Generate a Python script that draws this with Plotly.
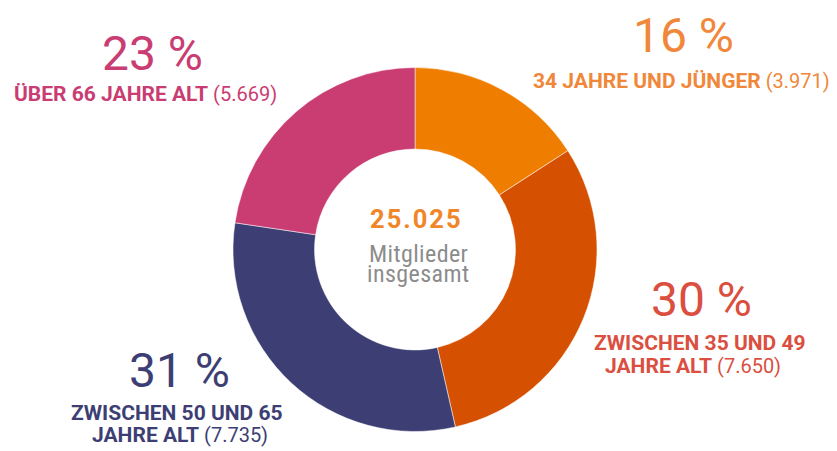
import plotly.graph_objects as go

# ---- data ----
categories = ["34 JAHRE UND JÜNGER", "ZWISCHEN 35 UND 49 JAHRE ALT",
              "ZWISCHEN 50 UND 65 JAHRE ALT", "ÜBER 66 JAHRE ALT"]
members = [3971, 7650, 7735, 5669]
percent_labels = [16, 30, 31, 23]
count_labels = ["3.971", "7.650", "7.735", "5.669"]
total_label = "25.025"
slice_colors = ["#EE7D00", "#D55000", "#3D3F74", "#C93D73"]
text_colors = ["#F0873A", "#DA4F3F", "#3D3F74", "#C93D73"]

W, H = 837, 451
FONT = "Roboto, sans-serif"

fig = go.Figure(go.Pie(
    labels=categories, values=members, sort=False, direction="clockwise",
    rotation=0, hole=0.552, textinfo="none", hoverinfo="label+value",
    marker=dict(colors=slice_colors, line=dict(color="white", width=0.5)),
    domain=dict(x=[(415 - 182) / W, (415 + 182) / W],
                y=[(H - 249.5 - 182) / H, (H - 249.5 + 182) / H]),
    showlegend=False,
))

ann = []
def add(text, px, py, size, color, anchor="center"):
    ann.append(dict(text=text, x=px / W, y=1 - py / H, xref="paper", yref="paper",
                    xanchor=anchor, yanchor="middle", showarrow=False,
                    font=dict(family=FONT, size=size, color=color)))

def cond(s):
    return "<span style='font-stretch:condensed'>" + s + "</span>"

def label(bold, count=None):
    s = f"<b>{bold}</b>"
    if count:
        s += f"<span style='font-size:20px'> ({count})</span>"
    return s

LS = 21
# 16 %
add(f"{percent_labels[0]} %", 683, 35, 48, text_colors[0])
add(label(categories[0], count_labels[0]), 681, 81, LS, text_colors[0])
# 30 %
add(f"{percent_labels[1]} %", 701, 299, 48, text_colors[1])
add(label("ZWISCHEN 35 UND 49"), 700, 343, LS, text_colors[1])
add(label("JAHRE ALT", count_labels[1]), 693, 366, LS, text_colors[1])
# 31 %
add(f"{percent_labels[2]} %", 179, 370, 48, text_colors[2])
add(label("ZWISCHEN 50 UND 65"), 177, 413, LS, text_colors[2])
add(label("JAHRE ALT", count_labels[2]), 180, 435, LS, text_colors[2])
# 23 %
add(f"{percent_labels[3]} %", 152, 53, 48, text_colors[3])
add(label(categories[3], count_labels[3]), 145, 94, LS, text_colors[3])
# center
add(f"<span style='letter-spacing:2px'><b>{total_label}</b></span>", 416, 219, 25.5, "#F08628")
add("<span style='font-stretch:condensed;letter-spacing:0.4px'>Mitglieder</span>", 418, 254, 24, "#8C8C8C")
add("<span style='font-stretch:condensed;letter-spacing:0.4px'>insgesamt</span>", 418, 274, 24, "#8C8C8C")

fig.update_layout(
    width=W, height=H, margin=dict(l=0, r=0, t=0, b=0),
    paper_bgcolor="white", plot_bgcolor="white",
    font=dict(family=FONT), annotations=ann,
)
fig.write_html("out.html", config={"displayModeBar": False},
               post_script="document.body.style.margin='0';document.body.style.overflow='hidden';")
